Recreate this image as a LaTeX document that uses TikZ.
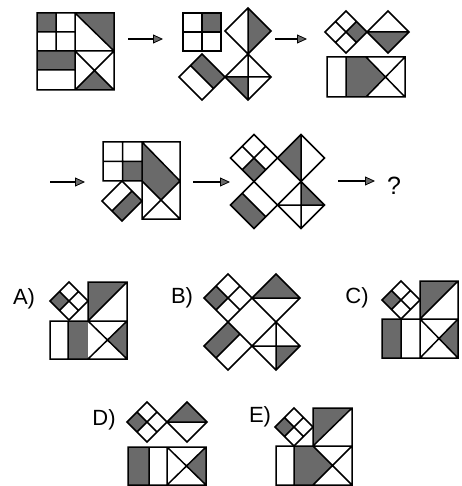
\documentclass[tikz,border=0pt]{standalone}
\usepackage{fontspec}
\setmainfont{Liberation Sans}
\usetikzlibrary{arrows.meta}
\definecolor{hatchgray}{HTML}{6A6A6A}
\tikzset{
  piece/.style={draw=black,line width=1.5pt,line join=miter,line cap=round},
  shade/.style={fill=hatchgray},
  flow/.style={-{Triangle[length=10pt,width=9pt,fill=hatchgray,line width=0.8pt]},line width=1.5pt},
  cell/.style 2 args={shift={(#1)},scale=#2},
  optlabel/.style={font=\fontsize{22}{22}\selectfont,inner sep=0pt}
}
\begin{document}
\begin{tikzpicture}[x=1pt,y=-1pt]
\useasboundingbox (0,0) rectangle (461,486);
% first figure
\fill[shade] (37,13) rectangle (56,32);
\fill[shade] (37,51) rectangle (75,70);
\fill[shade] (75,13) -- (114,13) -- (114,51) -- cycle;
\fill[shade] (75,90) -- (94.5,70.5) -- (114,90) -- cycle;
\draw[piece] (37,13) rectangle (114,90)
  (75,13) -- (75,90) (37,51) -- (114,51) (56,13) -- (56,51)
  (37,32) -- (75,32) (37,70) -- (75,70)
  (75,13) -- (114,51) (75,51) -- (114,90) (114,51) -- (75,90);
% second figure
\fill[shade] (202,13) rectangle (221,32);
\draw[piece] (183,13) rectangle (221,51) (202,13) -- (202,51) (183,32) -- (221,32);
\begin{scope}[cell={248,31}{23}]
  \fill[shade] (0,-1) -- (1,0) -- (0,1) -- cycle;
  \draw[piece] (-1,0) -- (0,-1) -- (1,0) -- (0,1) -- cycle (0,-1) -- (0,1);
\end{scope}
\begin{scope}[cell={248,77}{23}]
  \fill[shade] (-1,0) -- (0,0) -- (0,1) -- cycle;
  \draw[piece] (-1,0) -- (0,-1) -- (1,0) -- (0,1) -- cycle (-1,0) -- (1,0) (0,-1) -- (0,1);
\end{scope}
\begin{scope}[cell={202,77}{23}]
  \fill[shade] (-.5,-.5) -- (0,-1) -- (1,0) -- (.5,.5) -- cycle;
  \draw[piece] (-1,0) -- (0,-1) -- (1,0) -- (0,1) -- cycle (-.5,-.5) -- (.5,.5);
\end{scope}
% third figure
\begin{scope}[cell={346,32}{21}]
  \fill[shade] (1,0) -- (.5,-.5) -- (0,0) -- (.5,.5) -- cycle;
  \draw[piece] (-1,0) -- (0,-1) -- (1,0) -- (0,1) -- cycle (-.5,-.5) -- (.5,.5) (.5,-.5) -- (-.5,.5);
\end{scope}
\begin{scope}[cell={388,32}{21}]
  \fill[shade] (-1,0) -- (1,0) -- (0,1) -- cycle;
  \draw[piece] (-1,0) -- (0,-1) -- (1,0) -- (0,1) -- cycle (-1,0) -- (1,0);
\end{scope}
\fill[shade] (346,57) -- (366,57) -- (385.5,77) -- (366,97) -- (346,97) -- cycle;
\draw[piece] (327,57) rectangle (405,97) (346,57) -- (346,97)
  (366,57) -- (405,97) (405,57) -- (366,97);
% fourth figure
\fill[shade] (122.5,161.5) rectangle (142,181);
\fill[shade] (142,142) -- (180,181) -- (161,200) -- (142,181) -- cycle;
\draw[piece] (103,142) rectangle (142,181) (122.5,142) -- (122.5,181) (103,161.5) -- (142,161.5)
  (142,142) rectangle (180,219) (142,142) -- (180,181)
  (142,181) -- (180,219) (180,181) -- (142,219);
\begin{scope}[cell={122,201}{20}]
  \fill[shade] (.5,-.5) -- (1,0) -- (0,1) -- (-.5,.5) -- cycle;
  \draw[piece] (-1,0) -- (0,-1) -- (1,0) -- (0,1) -- cycle (.5,-.5) -- (-.5,.5);
\end{scope}
% fifth figure
\begin{scope}[cell={254,158}{23.5}]
  \fill[shade] (0,1) -- (-.5,.5) -- (0,0) -- (.5,.5) -- cycle;
  \draw[piece] (-1,0) -- (0,-1) -- (1,0) -- (0,1) -- cycle (-.5,-.5) -- (.5,.5) (.5,-.5) -- (-.5,.5);
\end{scope}
\begin{scope}[cell={301,158}{23.5}]
  \fill[shade] (0,-1) -- (-1,0) -- (0,1) -- cycle;
  \draw[piece] (-1,0) -- (0,-1) -- (1,0) -- (0,1) -- cycle (0,-1) -- (0,1);
\end{scope}
\begin{scope}[cell={254,205}{23.5}]
  \fill[shade] (-1,0) -- (-.5,-.5) -- (.5,.5) -- (0,1) -- cycle;
  \draw[piece] (-1,0) -- (0,-1) -- (1,0) -- (0,1) -- cycle (-.5,-.5) -- (.5,.5);
\end{scope}
\begin{scope}[cell={301,205}{23.5}]
  \fill[shade] (0,-1) -- (1,0) -- (0,0) -- cycle;
  \draw[piece] (-1,0) -- (0,-1) -- (1,0) -- (0,1) -- cycle (-1,0) -- (1,0) (0,-1) -- (0,1);
\end{scope}
% arrows
\coordinate (f1out) at (128,39);  \coordinate (f2in) at (163,39);
\coordinate (f2out) at (275,39);  \coordinate (f3in) at (307,39);
\coordinate (f3out) at (50,182);  \coordinate (f4in) at (85,182);
\coordinate (f4out) at (193,182); \coordinate (f5in) at (230,182);
\coordinate (f5out) at (338,181); \coordinate (qin) at (375,181);
\draw[flow] (f1out) -- (f2in);
\draw[flow] (f2out) -- (f3in);
\draw[flow] (f3out) -- (f4in);
\draw[flow] (f4out) -- (f5in);
\draw[flow] (f5out) -- (qin);
\node[optlabel,font=\fontsize{25}{25}\selectfont] (qmark) at (394,186) {?};
% option A
\node[optlabel] (labA) at (24,299) {A)};
\begin{scope}[cell={69,301}{19}]
  \fill[shade] (-1,0) -- (-.5,-.5) -- (0,0) -- (-.5,.5) -- cycle;
  \draw[piece] (-1,0) -- (0,-1) -- (1,0) -- (0,1) -- cycle (-.5,-.5) -- (.5,.5) (.5,-.5) -- (-.5,.5);
\end{scope}
\fill[shade] (88,282) -- (127,282) -- (88,321) -- cycle;
\fill[shade] (68,321) rectangle (88,359);
\fill[shade] (127,321) -- (107.5,340) -- (127,359) -- cycle;
\draw[piece] (88,282) rectangle (127,321) (88,321) -- (127,282)
  (50,321) rectangle (127,359) (68,321) -- (68,359)
  (88,321) -- (127,359) (127,321) -- (88,359);
% option B
\node[optlabel] (labB) at (182,298) {B)};
\begin{scope}[cell={228,298}{24}]
  \fill[shade] (-1,0) -- (-.5,-.5) -- (0,0) -- (-.5,.5) -- cycle;
  \draw[piece] (-1,0) -- (0,-1) -- (1,0) -- (0,1) -- cycle (-.5,-.5) -- (.5,.5) (.5,-.5) -- (-.5,.5);
\end{scope}
\begin{scope}[cell={276,298}{24}]
  \fill[shade] (-1,0) -- (0,-1) -- (1,0) -- cycle;
  \draw[piece] (-1,0) -- (0,-1) -- (1,0) -- (0,1) -- cycle (-1,0) -- (1,0);
\end{scope}
\begin{scope}[cell={228,346}{24}]
  \fill[shade] (-1,0) -- (0,-1) -- (.5,-.5) -- (-.5,.5) -- cycle;
  \draw[piece] (-1,0) -- (0,-1) -- (1,0) -- (0,1) -- cycle (.5,-.5) -- (-.5,.5);
\end{scope}
\begin{scope}[cell={276,346}{24}]
  \fill[shade] (0,0) -- (1,0) -- (0,1) -- cycle;
  \draw[piece] (-1,0) -- (0,-1) -- (1,0) -- (0,1) -- cycle (-1,0) -- (1,0) (0,-1) -- (0,1);
\end{scope}
% option C
\node[optlabel] (labC) at (357,298) {C)};
\begin{scope}[cell={401,300}{19}]
  \fill[shade] (-1,0) -- (-.5,-.5) -- (0,0) -- (-.5,.5) -- cycle;
  \draw[piece] (-1,0) -- (0,-1) -- (1,0) -- (0,1) -- cycle (-.5,-.5) -- (.5,.5) (.5,-.5) -- (-.5,.5);
\end{scope}
\fill[shade] (420,281) -- (458,281) -- (420,319) -- cycle;
\fill[shade] (382,319) rectangle (401,358);
\fill[shade] (458,319) -- (439,338.5) -- (458,358) -- cycle;
\draw[piece] (420,281) rectangle (458,319) (420,319) -- (458,281)
  (382,319) rectangle (458,358) (401,319) -- (401,358) (420,319) -- (420,358)
  (420,319) -- (458,358) (458,319) -- (420,358);
% option D
\node[optlabel] (labD) at (104,420) {D)};
\begin{scope}[cell={147,422}{20}]
  \fill[shade] (-1,0) -- (-.5,-.5) -- (0,0) -- (-.5,.5) -- cycle;
  \draw[piece] (-1,0) -- (0,-1) -- (1,0) -- (0,1) -- cycle (-.5,-.5) -- (.5,.5) (.5,-.5) -- (-.5,.5);
\end{scope}
\begin{scope}[cell={187,422}{20}]
  \fill[shade] (-1,0) -- (0,-1) -- (1,0) -- cycle;
  \draw[piece] (-1,0) -- (0,-1) -- (1,0) -- (0,1) -- cycle (-1,0) -- (1,0);
\end{scope}
\fill[shade] (128,447) rectangle (149,485);
\fill[shade] (206,447) -- (186.5,466) -- (206,485) -- cycle;
\draw[piece] (128,447) rectangle (206,485) (149,447) -- (149,485) (167,447) -- (167,485)
  (167,447) -- (206,485) (206,447) -- (167,485);
% option E
\node[optlabel] (labE) at (260,417) {E)};
\begin{scope}[cell={294,427}{19}]
  \fill[shade] (-1,0) -- (-.5,-.5) -- (0,0) -- (-.5,.5) -- cycle;
  \draw[piece] (-1,0) -- (0,-1) -- (1,0) -- (0,1) -- cycle (-.5,-.5) -- (.5,.5) (.5,-.5) -- (-.5,.5);
\end{scope}
\fill[shade] (313,408) -- (352,408) -- (313,446) -- cycle;
\fill[shade] (294,446) -- (313,446) -- (332.5,465.5) -- (313,485) -- (294,485) -- cycle;
\draw[piece] (313,408) rectangle (352,446) (313,446) -- (352,408)
  (276,446) rectangle (352,485) (294,446) -- (294,485)
  (313,446) -- (352,485) (352,446) -- (313,485);
\end{tikzpicture}
\end{document}
